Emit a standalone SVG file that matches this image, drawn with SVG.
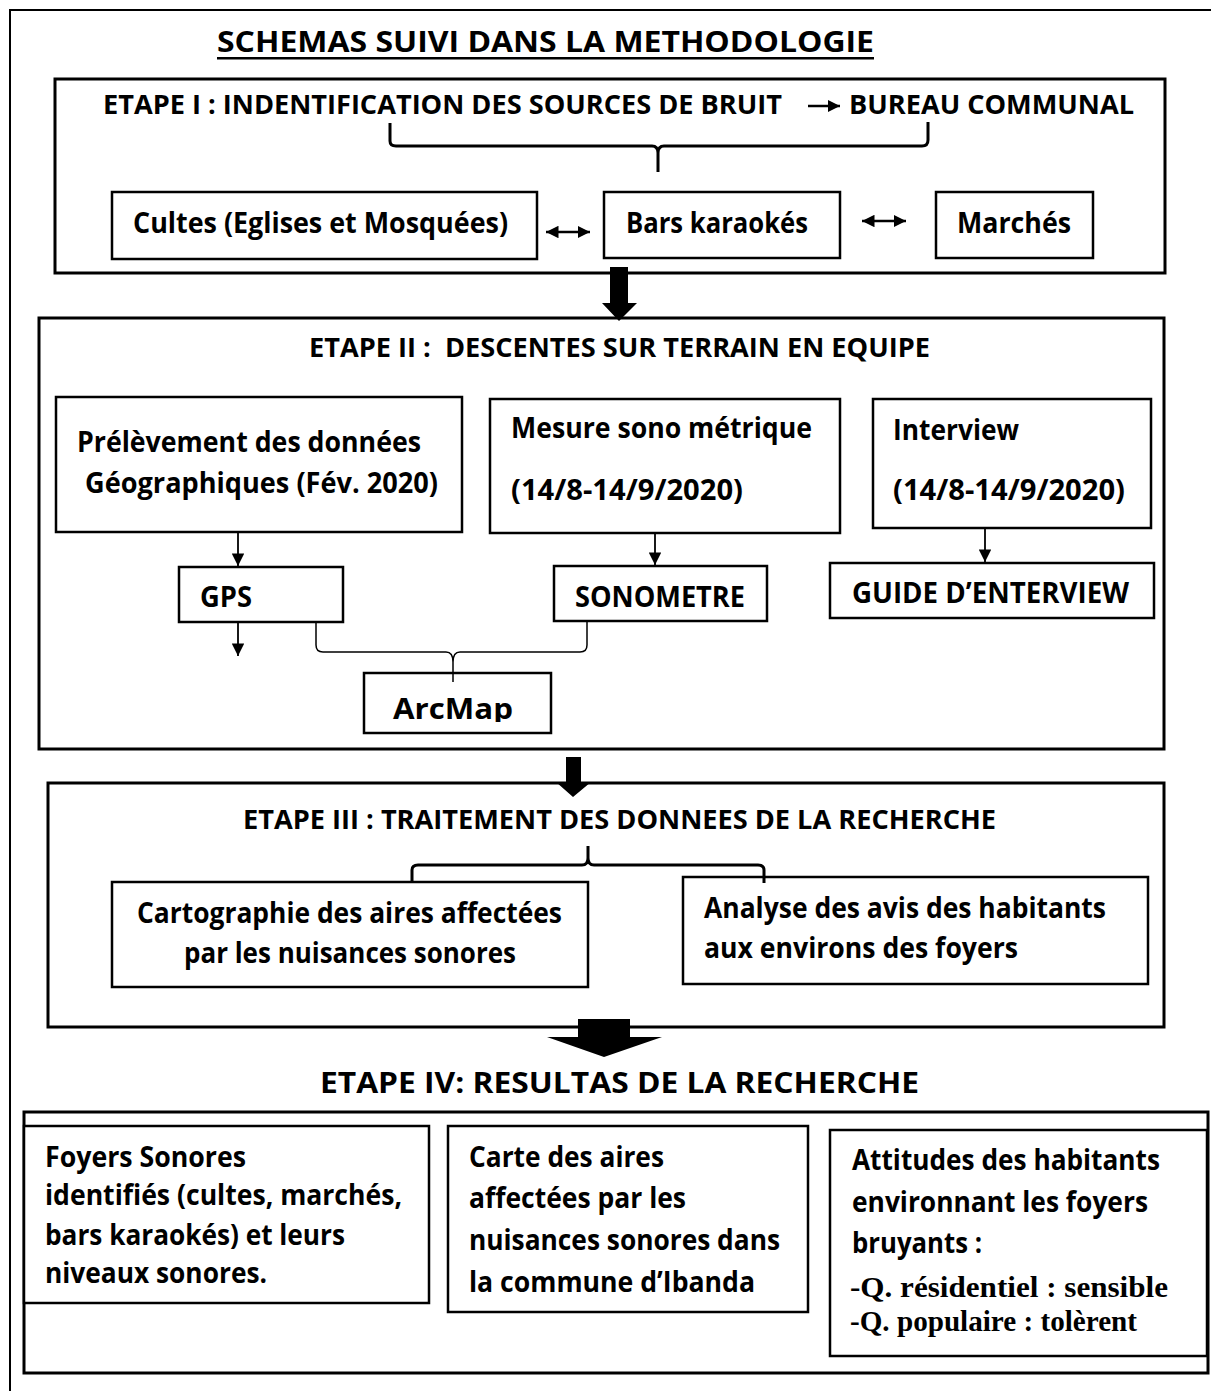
<svg xmlns="http://www.w3.org/2000/svg" width="1211" height="1391" viewBox="0 0 1211 1391">
<style>
.t{font-family:"Open Sans",Lato,"Liberation Sans",sans-serif;font-weight:bold;fill:#000;font-size:28px}
.h{font-size:27px}
.s{font-family:"Liberation Serif",serif;font-weight:bold;fill:#000;font-size:29px}
.box{fill:#fff;stroke:#000;stroke-width:2.5}
.big{fill:none;stroke:#000;stroke-width:3}
.ln{fill:none;stroke:#000;stroke-width:1.5}
.br{fill:none;stroke:#000;stroke-width:3}
</style>
<defs>
<marker id="ah" viewBox="0 0 10 10" refX="10" refY="5" markerWidth="7" markerHeight="7" markerUnits="strokeWidth" orient="auto"><path d="M0,0 L10,5 L0,10 z" fill="#000"/></marker>
<marker id="ah2" viewBox="0 0 10 10" refX="10" refY="5" markerWidth="5" markerHeight="5" markerUnits="strokeWidth" orient="auto-start-reverse"><path d="M0,0 L10,5 L0,10 z" fill="#000"/></marker>
<clipPath id="cpArc"><rect x="364" y="673" width="187" height="49"/></clipPath>
</defs>
<rect width="1211" height="1391" fill="#fff"/>
<path d="M10,1391 L10,10 L1211,10" fill="none" stroke="#000" stroke-width="2"/>
<g id="title">
<text class="t" x="217" y="52" font-size="33" textLength="657" lengthAdjust="spacingAndGlyphs">SCHEMAS SUIVI DANS LA METHODOLOGIE</text>
<rect x="217" y="57" width="657" height="2.5" fill="#000"/>
</g>
<g id="etape1">
<rect class="big" x="55" y="79" width="1110" height="194"/>
<text class="t h" x="103" y="114" textLength="679" lengthAdjust="spacingAndGlyphs">ETAPE I : INDENTIFICATION DES SOURCES DE BRUIT</text>
<text class="t h" x="849" y="114" textLength="285" lengthAdjust="spacingAndGlyphs">BUREAU COMMUNAL</text>
</g>
<g id="cultes"><rect class="box" x="112" y="192" width="425" height="67"/><text class="t" x="133" y="233" textLength="375" lengthAdjust="spacingAndGlyphs">Cultes (Eglises et Mosquées)</text></g>
<g id="bars"><rect class="box" x="604" y="192" width="236" height="66"/><text class="t" x="626" y="233" textLength="182" lengthAdjust="spacingAndGlyphs">Bars karaokés</text></g>
<g id="marches"><rect class="box" x="936" y="192" width="157" height="66"/><text class="t" x="957" y="233" textLength="114" lengthAdjust="spacingAndGlyphs">Marchés</text></g>
<g id="etape2">
<rect class="big" x="39" y="318" width="1125" height="431"/>
<text class="t h" x="309" y="357" textLength="621" lengthAdjust="spacingAndGlyphs" xml:space="preserve">ETAPE II :  DESCENTES SUR TERRAIN EN EQUIPE</text>
</g>
<g id="prelevement"><rect class="box" x="56" y="397" width="406" height="135"/>
<text class="t" x="77" y="452" textLength="344" lengthAdjust="spacingAndGlyphs">Prélèvement des données</text>
<text class="t" x="85" y="493" textLength="353" lengthAdjust="spacingAndGlyphs">Géographiques (Fév. 2020)</text></g>
<g id="mesure"><rect class="box" x="490" y="399" width="350" height="134"/>
<text class="t" x="511" y="438" textLength="301" lengthAdjust="spacingAndGlyphs">Mesure sono métrique</text>
<text class="t" x="511" y="500" textLength="232" lengthAdjust="spacingAndGlyphs">(14/8-14/9/2020)</text></g>
<g id="interview"><rect class="box" x="873" y="399" width="278" height="129"/>
<text class="t" x="893" y="440" textLength="126" lengthAdjust="spacingAndGlyphs">Interview</text>
<text class="t" x="893" y="500" textLength="232" lengthAdjust="spacingAndGlyphs">(14/8-14/9/2020)</text></g>
<g id="gps"><rect class="box" x="179" y="567" width="164" height="55"/><text class="t" x="200" y="607" textLength="52" lengthAdjust="spacingAndGlyphs">GPS</text></g>
<g id="sonometre"><rect class="box" x="554" y="566" width="213" height="55"/><text class="t" x="575" y="607" textLength="170" lengthAdjust="spacingAndGlyphs">SONOMETRE</text></g>
<g id="guide"><rect class="box" x="830" y="563" width="324" height="55"/><text class="t" x="852" y="603" textLength="277" lengthAdjust="spacingAndGlyphs">GUIDE D’ENTERVIEW</text></g>
<g id="arcmap"><rect class="box" x="364" y="673" width="187" height="60"/><text class="t" x="393" y="719" font-size="30" textLength="120" lengthAdjust="spacingAndGlyphs" clip-path="url(#cpArc)">ArcMap</text></g>
<g id="etape3">
<rect class="big" x="48" y="783" width="1116" height="244"/>
<text class="t h" x="243" y="829" textLength="753" lengthAdjust="spacingAndGlyphs">ETAPE III : TRAITEMENT DES DONNEES DE LA RECHERCHE</text>
</g>
<g id="cartographie"><rect class="box" x="112" y="882" width="476" height="105"/>
<text class="t" x="137" y="923" textLength="425" lengthAdjust="spacingAndGlyphs">Cartographie des aires affectées</text>
<text class="t" x="184" y="963" textLength="332" lengthAdjust="spacingAndGlyphs">par les nuisances sonores</text></g>
<g id="analyse"><rect class="box" x="683" y="877" width="465" height="107"/>
<text class="t" x="704" y="918" textLength="402" lengthAdjust="spacingAndGlyphs">Analyse des avis des habitants</text>
<text class="t" x="704" y="958" textLength="314" lengthAdjust="spacingAndGlyphs">aux environs des foyers</text></g>
<g id="etape4">
<text class="t" x="320" y="1093" font-size="31" textLength="599" lengthAdjust="spacingAndGlyphs">ETAPE IV: RESULTAS DE LA RECHERCHE</text>
<rect class="big" x="24" y="1112" width="1184" height="261"/>
</g>
<g id="foyers"><rect class="box" x="24" y="1126" width="405" height="177"/>
<text class="t" x="45" y="1167" textLength="201" lengthAdjust="spacingAndGlyphs">Foyers Sonores</text>
<text class="t" x="45" y="1205" textLength="357" lengthAdjust="spacingAndGlyphs">identifiés (cultes, marchés,</text>
<text class="t" x="45" y="1245" textLength="300" lengthAdjust="spacingAndGlyphs">bars karaokés) et leurs</text>
<text class="t" x="45" y="1283" textLength="222" lengthAdjust="spacingAndGlyphs">niveaux sonores.</text></g>
<g id="carte"><rect class="box" x="448" y="1126" width="360" height="186"/>
<text class="t" x="469" y="1167" textLength="195" lengthAdjust="spacingAndGlyphs">Carte des aires</text>
<text class="t" x="469" y="1208" textLength="217" lengthAdjust="spacingAndGlyphs">affectées par les</text>
<text class="t" x="469" y="1250" textLength="311" lengthAdjust="spacingAndGlyphs">nuisances sonores dans</text>
<text class="t" x="469" y="1292" textLength="286" lengthAdjust="spacingAndGlyphs">la commune d’Ibanda</text></g>
<g id="attitudes"><rect class="box" x="830" y="1130" width="377" height="226"/>
<text class="t" x="852" y="1170" textLength="308" lengthAdjust="spacingAndGlyphs">Attitudes des habitants</text>
<text class="t" x="852" y="1212" textLength="296" lengthAdjust="spacingAndGlyphs">environnant les foyers</text>
<text class="t" x="852" y="1253" textLength="130" lengthAdjust="spacingAndGlyphs">bruyants :</text>
<text class="s" x="850" y="1297" textLength="318" lengthAdjust="spacingAndGlyphs">-Q. résidentiel : sensible</text>
<text class="s" x="850" y="1331" textLength="287" lengthAdjust="spacingAndGlyphs">-Q. populaire : tolèrent</text></g>
<g id="connectors">
<line x1="808" y1="106" x2="840" y2="106" stroke="#000" stroke-width="2.5" marker-end="url(#ah2)"/>
<path class="br" d="M390,123 L390,141 Q390,146 396,146 L652,146 Q658,146 658,153 L658,172 M928,122 L928,140 Q928,146 922,146 L664,146 Q658,146 658,153"/>
<line x1="546" y1="232" x2="590" y2="232" stroke="#000" stroke-width="2.5" marker-start="url(#ah2)" marker-end="url(#ah2)"/>
<line x1="862" y1="221" x2="906" y2="221" stroke="#000" stroke-width="2.5" marker-start="url(#ah2)" marker-end="url(#ah2)"/>
<polygon points="610,267 628,267 628,303 637,303 619,321 602,303 610,303" fill="#000"/>
<line x1="238" y1="533" x2="238" y2="566" stroke="#000" stroke-width="1.8" marker-end="url(#ah)"/>
<line x1="238" y1="622" x2="238" y2="656" stroke="#000" stroke-width="1.8" marker-end="url(#ah)"/>
<line x1="655" y1="533" x2="655" y2="565" stroke="#000" stroke-width="1.8" marker-end="url(#ah)"/>
<line x1="985" y1="528" x2="985" y2="562" stroke="#000" stroke-width="1.8" marker-end="url(#ah)"/>
<path class="ln" d="M316,622 L316,645 Q316,652 323,652 L446,652 Q453,652 453,662 L453,682 M587,621 L587,645 Q587,652 580,652 L460,652 Q453,652 453,662"/>
<polygon points="566,757 581,757 581,782 591,782 573,797 556,782 566,782" fill="#000"/>
<path class="br" d="M412,882 L412,870 Q412,865 418,865 L582,865 Q588,865 588,858 L588,846 M764,883 L764,870 Q764,865 758,865 L594,865 Q588,865 588,858"/>
<polygon points="578,1019 630,1019 630,1037 662,1037 604,1057 547,1037 578,1037" fill="#000"/>
</g>
</svg>
